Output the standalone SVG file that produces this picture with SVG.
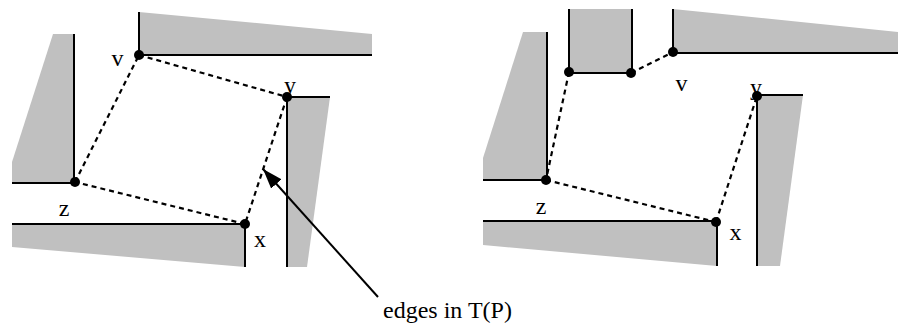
<svg xmlns="http://www.w3.org/2000/svg" width="898" height="327" viewBox="0 0 898 327">
<style>
.obs{fill:#c0c0c0;stroke:none}
.wall{fill:none;stroke:#000;stroke-width:2}
.edge{fill:none;stroke:#000;stroke-width:2.2;stroke-dasharray:5,4}
.dot{fill:#000}
.lbl{font-family:"Liberation Serif","Times New Roman",serif;font-size:24px;fill:#000}
</style>
<defs>
<marker id="ah" markerWidth="20" markerHeight="14" refX="20" refY="7" orient="auto" markerUnits="userSpaceOnUse">
<path d="M0,0 L20,7 L0,14 Z" fill="#000"/>
</marker>
</defs>
<rect width="898" height="327" fill="#fff"/>
<g id="left-obstacles">
<polygon class="obs" points="139,12 372,34 372,55 139,55"/>
<polygon class="obs" points="53,34 74,34 74,183 12,183 12,162"/>
<polygon class="obs" points="287,97 330,97 307,267 287,267"/>
<polygon class="obs" points="12,224 245,224 245,267 12,247"/>
<path class="wall" d="M139,12 V55 H372"/>
<path class="wall" d="M74,34 V183 H12"/>
<path class="wall" d="M287,267 V97 H330"/>
<path class="wall" d="M12,224 H245 V267"/>
</g>
<g id="right-obstacles">
<polygon class="obs" points="523,32 547,32 547,180 483,180 483,158"/>
<polygon class="obs" points="569,9 632,9 632,73 569,73"/>
<polygon class="obs" points="673,9 898,32 898,53 673,53"/>
<polygon class="obs" points="757,95 803,95 780,266 757,266"/>
<polygon class="obs" points="483,221 717,221 717,266 483,245"/>
<path class="wall" d="M547,32 V180 H483"/>
<path class="wall" d="M569,9 V73 H632 V9"/>
<path class="wall" d="M673,9 V53 H898"/>
<path class="wall" d="M757,266 V95 H803"/>
<path class="wall" d="M483,221 H717 V266"/>
</g>
<g id="connectors">
<path class="edge" d="M139,55 L287,97"/>
<path class="edge" d="M287,97 L245,224"/>
<path class="edge" d="M245,224 L75,182"/>
<path class="edge" d="M75,182 L139,55"/>
<path class="edge" d="M631,73 L673,52"/>
<path class="edge" d="M569,72 L546,180"/>
<path class="edge" d="M546,180 L716,222"/>
<path class="edge" d="M716,222 L757,96"/>
<path d="M378,297 L263,169" stroke="#000" stroke-width="2" fill="none" marker-end="url(#ah)"/>
</g>
<g id="left-vertices">
<circle class="dot" cx="139" cy="55" r="5"/>
<circle class="dot" cx="287" cy="97" r="5"/>
<circle class="dot" cx="245" cy="224" r="5"/>
<circle class="dot" cx="75" cy="182" r="5"/>
</g>
<g id="right-vertices">
<circle class="dot" cx="569" cy="72" r="5"/>
<circle class="dot" cx="631" cy="73" r="5"/>
<circle class="dot" cx="673" cy="52" r="5"/>
<circle class="dot" cx="757" cy="96" r="5"/>
<circle class="dot" cx="716" cy="222" r="5"/>
<circle class="dot" cx="546" cy="180" r="5"/>
</g>
<g id="labels">
<text class="lbl" x="117.5" y="66" text-anchor="middle">v</text>
<text class="lbl" x="290" y="93" text-anchor="middle">y</text>
<text class="lbl" x="64" y="215.5" text-anchor="middle">z</text>
<text class="lbl" x="260" y="246.5" text-anchor="middle">x</text>
<text class="lbl" x="681.5" y="91" text-anchor="middle">v</text>
<text class="lbl" x="756" y="95" text-anchor="middle">y</text>
<text class="lbl" x="541" y="213.5" text-anchor="middle">z</text>
<text class="lbl" x="735.5" y="240" text-anchor="middle">x</text>
<text class="lbl" x="383" y="318">edges in T(P)</text>
</g>
</svg>
